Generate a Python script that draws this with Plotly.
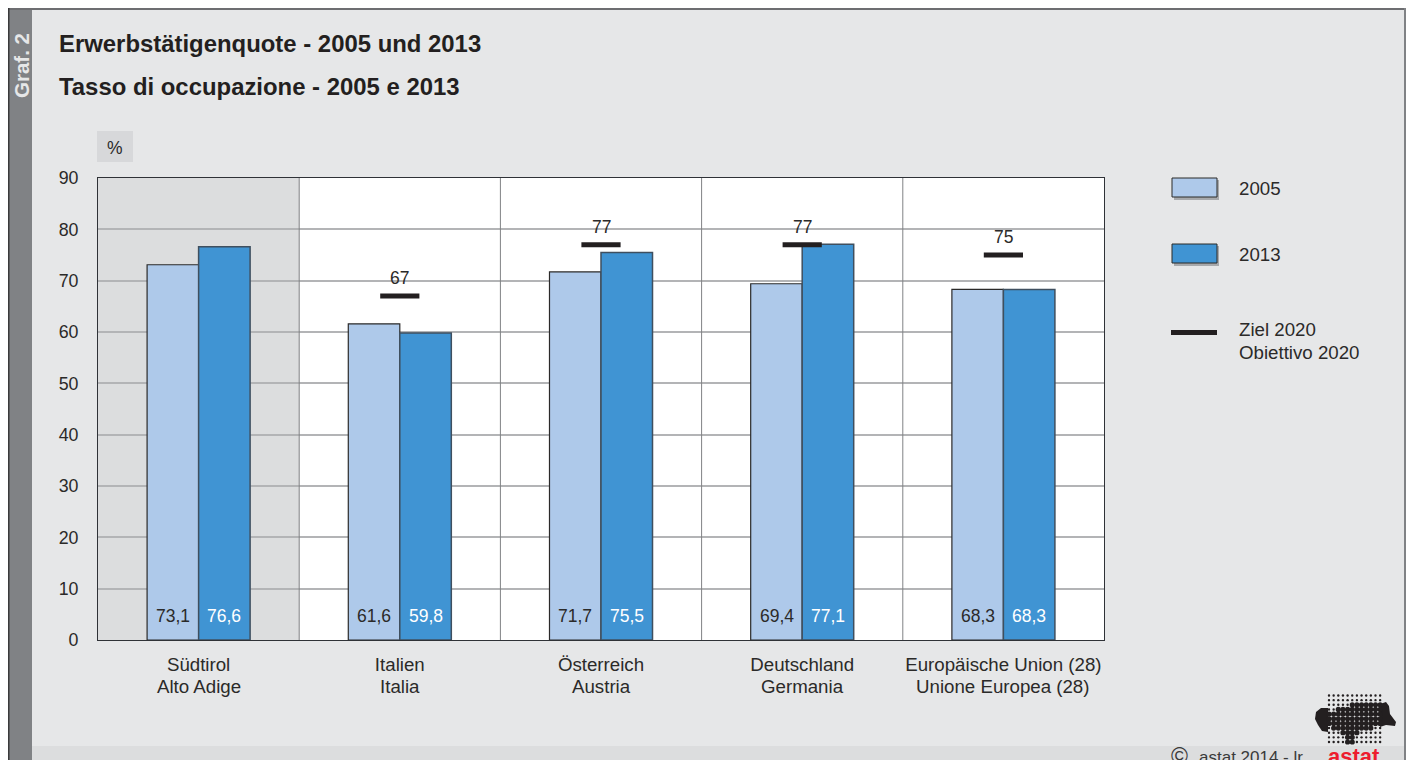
import plotly.graph_objects as go

labels_de = ["Südtirol", "Italien", "Österreich", "Deutschland", "Europäische Union (28)"]
labels_it = ["Alto Adige", "Italia", "Austria", "Germania", "Unione Europea (28)"]
values_2005 = [73.1, 61.6, 71.7, 69.4, 68.3]
values_2013 = [76.6, 59.8, 75.5, 77.1, 68.3]
target_2020 = [None, 67, 77, 77, 75]
y_ticks = [0, 10, 20, 30, 40, 50, 60, 70, 80, 90]

FONT = "Liberation Sans, Arial, sans-serif"
INK = "#2b2a29"
PANEL = "#e6e7e8"
C05 = "#aec9ea"
C13 = "#4094d3"
W, H = 1408, 760
PL, PR, PT, PB = 98, 1104, 178, 640


def px(x):
    return (x - PL) / (PR - PL)


def py(y):
    return (PB - y) / (PB - PT)


shapes = []


def rect(x0, y0, x1, y1, fill, line=None, lw=0, layer="below"):
    shapes.append(dict(type="rect", xref="paper", yref="paper", x0=px(x0), x1=px(x1),
                       y0=py(y0), y1=py(y1), fillcolor=fill, layer=layer,
                       line=dict(color=line or fill, width=lw)))


def note(x, y, text, size=16, color=INK, bold=False, anchor="left", angle=0):
    return dict(xref="paper", yref="paper", x=px(x), y=py(y), text=f"<b>{text}</b>" if bold else text,
                showarrow=False, xanchor=anchor, yanchor="middle", textangle=angle,
                font=dict(family=FONT, size=size, color=color), align="left")


# page furniture
rect(8, 8, 1404, 760, PANEL)
rect(8, 746, 1404, 760, "#dcddde")
rect(8, 8, 32, 760, "#808285")
rect(8, 8, 1406, 10, "#6d6e71")
rect(1404, 8, 1406, 760, "#808285")
rect(8, 8, 9.5, 760, "#3a3a3c")
rect(97, 131, 133, 162, "#d7d8da")

# legend swatches
rect(1174, 180, 1219, 200, "#a7a9ac")
rect(1172, 178, 1217, 197, C05, "#2b2a29", 1, "above")
rect(1174, 246, 1219, 266, "#a7a9ac")
rect(1172, 244, 1217, 263, C13, "#2b2a29", 1, "above")
rect(1171, 330, 1217, 335, "#231f20", layer="above")

# white plot field, Südtirol panel and category separators, on the data axes
shapes.append(dict(type="rect", xref="x", yref="y", x0=-0.5, x1=4.5, y0=0, y1=90,
                   fillcolor="#ffffff", line_width=0, layer="below"))
shapes.append(dict(type="rect", xref="x", yref="y", x0=-0.5, x1=0.5, y0=0, y1=90,
                   fillcolor="#dcddde", line_width=0, layer="below"))
for i in range(1, 5):
    shapes.append(dict(type="line", xref="x", yref="y", x0=i - 0.5, x1=i - 0.5, y0=0, y1=90,
                       line=dict(color="#808285", width=1), layer="between"))

# logo: two solid ends of the region silhouette plus a dot raster with larger dots inside it
logo_left = [(1328, 708), (1321, 708), (1316, 712), (1315, 719), (1318, 725), (1322, 731), (1328, 732)]
logo_right = [(1380, 704), (1386, 702), (1389, 706), (1390, 714), (1396, 722), (1395, 726), (1386, 725), (1380, 727)]
for outline in (logo_left, logo_right):
    shapes.append(dict(type="path", xref="paper", yref="paper",
                       path="M " + " L ".join(f"{px(x):.5f} {py(y):.5f}" for x, y in outline) + " Z",
                       fillcolor="#231f20", line_width=0, layer="above"))
logo_large = {2: (5, 11), 3: (2, 11), 4: (0, 11), 5: (0, 11), 6: (0, 11), 7: (1, 9), 8: (3, 6), 9: (4, 5), 10: (4, 5)}
for row in range(11):
    for col in range(12):
        cx, cy = 1329 + col * 4.65, 695.5 + row * 4.65
        lo, hi = logo_large.get(row, (1, 0))
        r = 2.6 if lo <= col <= hi else 1.2
        shapes.append(dict(type="circle", xref="paper", yref="paper",
                           x0=px(cx - r), x1=px(cx + r), y0=py(cy - r), y1=py(cy + r),
                           fillcolor="#231f20", line_width=0, layer="above"))

x_pos = list(range(len(labels_de)))
fig = go.Figure()
fig.add_bar(x=x_pos, y=values_2005, name="2005", marker_color=C05, offset=-0.256, width=0.256,
            marker_line=dict(color="#2b2a29", width=1.2), hoverinfo="y")
fig.add_bar(x=x_pos, y=values_2013, name="2013", marker_color=C13, offset=0, width=0.256,
            marker_line=dict(color="#3f4f5f", width=1.5), hoverinfo="y")
fig.add_scatter(x=x_pos, y=target_2020, mode="markers", name="Ziel 2020 / Obiettivo 2020",
                marker=dict(symbol="line-ew", size=28, line=dict(color="#231f20", width=5)),
                cliponaxis=False)

annotations = [
    note(57, 43, "Erwerbstätigenquote - 2005 und 2013", 23.9, "#231f20", True),
    note(57, 87, "Tasso di occupazione - 2005 e 2013", 23.9, "#231f20", True),
    note(21, 66, "Graf. 2", 20.5, "#e6e7e8", True, "center", -90),
    note(115, 148, "%", 17.5, anchor="center"),
    note(1237, 188, "2005", 18.7),
    note(1237, 254, "2013", 18.7),
    note(1237, 329, "Ziel 2020", 18.7),
    note(1237, 352, "Obiettivo 2020", 18.7),
    note(1169, 756, "©", 23, "#3a3a3a"),
    note(1197, 757, "astat 2014 - lr", 17, "#3a3a3a"),
    note(1354, 756, "astat", 22, "#ed1c2e", True, "center"),
]
for i, (a, b) in enumerate(zip(values_2005, values_2013)):
    for v, shift, col in ((a, -25.7, INK), (b, 25.7, "#ffffff")):
        annotations.append(dict(x=i, y=4.7, xref="x", yref="y", xshift=shift, showarrow=False,
                                text=f"{v:.1f}".replace(".", ","),
                                font=dict(family=FONT, size=17.5, color=col)))
    if target_2020[i] is not None:
        annotations.append(dict(x=i, y=target_2020[i], xref="x", yref="y", yshift=18, showarrow=False,
                                text=str(target_2020[i]), font=dict(family=FONT, size=17.5, color=INK)))
    annotations.append(dict(x=i, xref="x", y=py(686), yref="paper", showarrow=False, yanchor="middle",
                            text=labels_it[i], font=dict(family=FONT, size=18.7, color=INK)))

fig.update_layout(
    width=W, height=H, autosize=False, showlegend=False, barmode="overlay",
    margin=dict(l=PL, r=W - PR, t=PT, b=H - PB, pad=0),
    paper_bgcolor="#ffffff", plot_bgcolor="#ffffff",
    font=dict(family=FONT, size=17, color=INK),
    shapes=shapes, annotations=annotations,
)
fig.update_xaxes(range=[-0.5, 4.5], tickvals=x_pos, ticktext=labels_de, showgrid=False, ticks="",
                 zeroline=False, showline=True, linecolor="#2f3237", linewidth=1, mirror=True,
                 tickfont=dict(family=FONT, size=18.7, color=INK), ticklabelstandoff=8)
fig.update_yaxes(range=[0, 90], tickvals=y_ticks, showgrid=True, gridcolor="#b3b4b6", gridwidth=1.5,
                 ticks="", zeroline=False, showline=True, linecolor="#2f3237", linewidth=1, mirror=True,
                 tickfont=dict(family=FONT, size=17.8, color=INK), ticklabelstandoff=15)

fig.write_html("out.html", default_width="1408px", default_height="760px",
               config={"displayModeBar": False},
               post_script="document.body.style.margin='0';document.documentElement.style.overflow='hidden';")
